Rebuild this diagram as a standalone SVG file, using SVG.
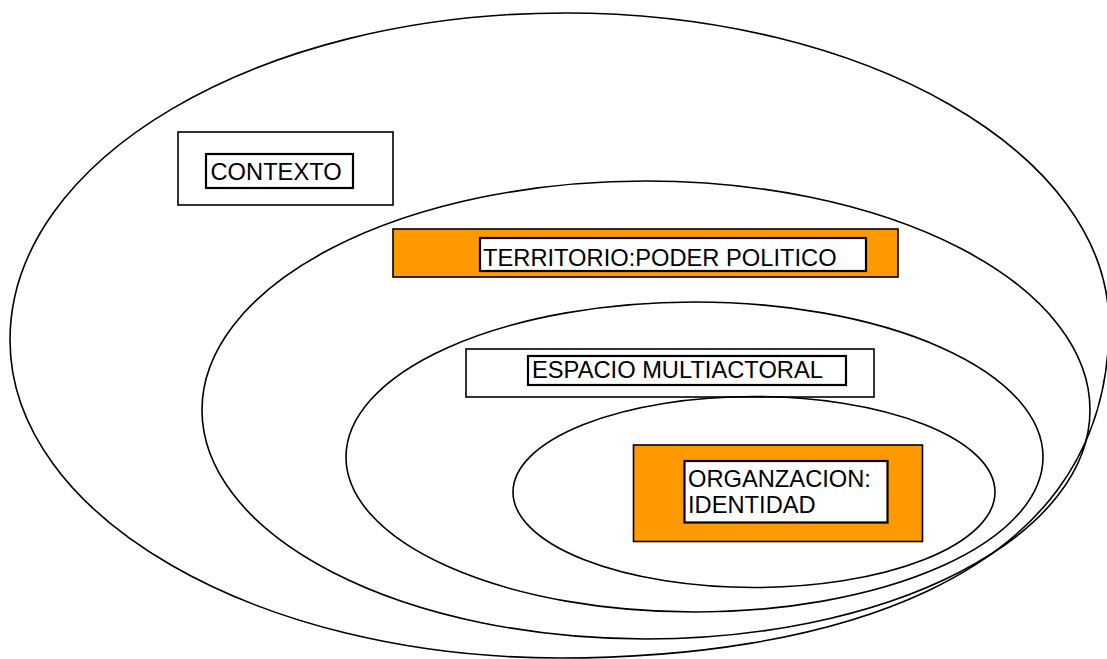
<svg xmlns="http://www.w3.org/2000/svg" width="1107" height="659" viewBox="0 0 1107 659">
<style>
.ell{fill:none;stroke:#000;stroke-width:1.6}
.box{stroke:#000;stroke-width:1.6}
.w{fill:#fff}
.o{fill:#ff9900}
.tb{fill:#fff;stroke:#000;stroke-width:2.2}
.t{font-family:"Liberation Sans",Arial,sans-serif;font-size:23.7px;fill:#000}
</style>
<rect x="0" y="0" width="1107" height="659" fill="#fff"/>
<g id="contexto-ellipse">
<path class="ell" d="M10,340 C10,159 258,13 565,13 C865,13 1109,153 1109,325 C1109,591 807,658 560,658 C256,658 10,516 10,340 Z"/>
</g>
<g id="contexto">
<rect class="box w" x="178" y="132" width="215" height="73"/>
<rect class="tb" x="206" y="154" width="147" height="34"/>
<text class="t" x="210.5" y="180">CONTEXTO</text>
</g>
<g id="territorio-ellipse">
<ellipse class="ell" cx="646" cy="410" rx="444" ry="229"/>
</g>
<g id="territorio">
<rect class="box o" x="393" y="229" width="505" height="48"/>
<rect class="tb" x="480" y="238" width="386" height="33"/>
<text class="t" x="483" y="265.5">TERRITORIO:PODER POLITICO</text>
</g>
<g id="espacio-ellipse">
<ellipse class="ell" cx="694.5" cy="457" rx="348.5" ry="155"/>
</g>
<g id="espacio">
<rect class="box w" x="466" y="349" width="408" height="48"/>
<rect class="tb" x="528" y="356" width="318" height="29"/>
<text class="t" x="532" y="377.5">ESPACIO MULTIACTORAL</text>
</g>
<g id="organizacion-ellipse">
<ellipse class="ell" cx="754" cy="492" rx="241" ry="95.5"/>
</g>
<g id="organizacion">
<rect class="box o" x="633.5" y="445" width="289" height="96.5"/>
<rect class="tb" x="684.5" y="461" width="203" height="61.5"/>
<text class="t" x="688" y="487">ORGANZACION:</text>
<text class="t" x="688" y="512.7">IDENTIDAD</text>
</g>
<g id="connectors"/>
</svg>
